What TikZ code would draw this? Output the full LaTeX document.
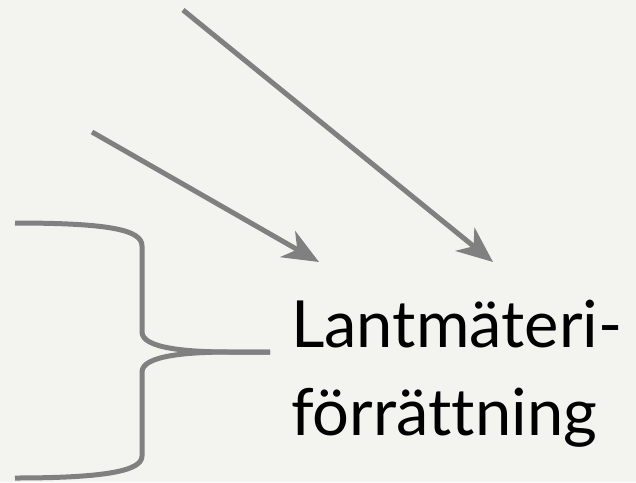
\documentclass[tikz,border=0pt]{standalone}
\usepackage{fontspec}
\setmainfont{Lato}[Ligatures=NoCommon]
\usetikzlibrary{arrows.meta}
\definecolor{paper}{HTML}{F3F3EF}
\definecolor{linegray}{HTML}{808080}
\begin{document}
\begin{tikzpicture}[x=1pt, y=-1pt,
        link/.style={draw=linegray, line width=5pt, -{Stealth[length=36pt, width=30pt, inset=11pt]}},
        brace/.style={draw=linegray, line width=5pt}]
                \fill[paper] (0,0) rectangle (636,482);
                \useasboundingbox (0,0) rectangle (636,482);
                \coordinate (srcA) at (183,10);
                \coordinate (srcB) at (92,132);
                \coordinate (tipA) at (493,262);
                \coordinate (tipB) at (319,262);
                \coordinate (top) at (15,223);
                \coordinate (bottom) at (15,478);
                \coordinate (point) at (270,352);
                \node[inner sep=0pt, anchor=base west, align=left, font=\fontsize{65}{88}\selectfont] (task) at (291,435) {Lantmäteri-\\förrättning};
                \draw[link] (srcA) -- (tipA);
                \draw[link] (srcB) -- (tipB);
                \draw[brace] (top) .. controls (110,223) and (142,230) .. (142,246)
                        -- (142,332) .. controls (142,348) and (185,352) .. (230,352) -- (point);
                \draw[brace] (point) -- (230,352) .. controls (185,352) and (142,356) .. (142,372)
                        -- (142,456) .. controls (142,470) and (110,478) .. (bottom);
            \end{tikzpicture}
\end{document}
